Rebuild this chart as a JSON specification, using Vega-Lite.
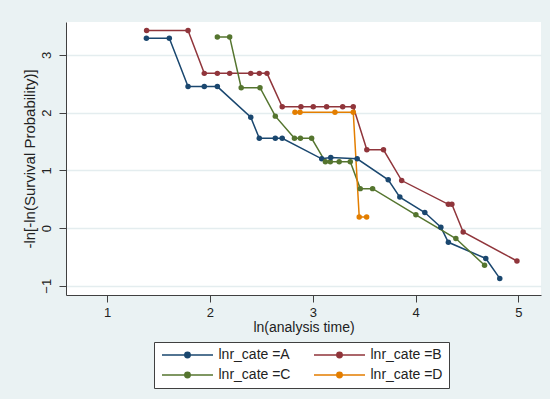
{
  "$schema": "https://vega.github.io/schema/vega-lite/v6.json",
  "width": 475,
  "height": 273,
  "autosize": {"type": "none"},
  "padding": {"left": 66, "top": 22, "right": 9, "bottom": 104},
  "background": "#eaf2f3",
  "config": {"view": {"fill": "white", "stroke": null}, "font": "Liberation Sans"},
  "data": {"values": [
    {"g": "A", "x": 1.382, "y": 3.289},
    {"g": "A", "x": 1.605, "y": 3.289},
    {"g": "A", "x": 1.787, "y": 2.451},
    {"g": "A", "x": 1.945, "y": 2.451},
    {"g": "A", "x": 2.072, "y": 2.451},
    {"g": "A", "x": 2.397, "y": 1.921},
    {"g": "A", "x": 2.480, "y": 1.554},
    {"g": "A", "x": 2.636, "y": 1.554},
    {"g": "A", "x": 2.703, "y": 1.554},
    {"g": "A", "x": 3.087, "y": 1.199},
    {"g": "A", "x": 3.175, "y": 1.222},
    {"g": "A", "x": 3.432, "y": 1.199},
    {"g": "A", "x": 3.734, "y": 0.835},
    {"g": "A", "x": 3.847, "y": 0.536},
    {"g": "A", "x": 4.090, "y": 0.269},
    {"g": "A", "x": 4.246, "y": 0.016},
    {"g": "A", "x": 4.319, "y": -0.247},
    {"g": "A", "x": 4.683, "y": -0.527},
    {"g": "A", "x": 4.819, "y": -0.873},
    {"g": "B", "x": 1.384, "y": 3.421},
    {"g": "B", "x": 1.787, "y": 3.421},
    {"g": "B", "x": 1.945, "y": 2.680},
    {"g": "B", "x": 2.072, "y": 2.680},
    {"g": "B", "x": 2.192, "y": 2.680},
    {"g": "B", "x": 2.397, "y": 2.680},
    {"g": "B", "x": 2.480, "y": 2.680},
    {"g": "B", "x": 2.555, "y": 2.680},
    {"g": "B", "x": 2.703, "y": 2.100},
    {"g": "B", "x": 2.885, "y": 2.100},
    {"g": "B", "x": 3.005, "y": 2.100},
    {"g": "B", "x": 3.135, "y": 2.100},
    {"g": "B", "x": 3.291, "y": 2.100},
    {"g": "B", "x": 3.394, "y": 2.100},
    {"g": "B", "x": 3.526, "y": 1.355},
    {"g": "B", "x": 3.688, "y": 1.355},
    {"g": "B", "x": 3.865, "y": 0.823},
    {"g": "B", "x": 4.319, "y": 0.411},
    {"g": "B", "x": 4.353, "y": 0.411},
    {"g": "B", "x": 4.463, "y": -0.068},
    {"g": "B", "x": 4.986, "y": -0.571},
    {"g": "C", "x": 2.072, "y": 3.312},
    {"g": "C", "x": 2.192, "y": 3.312},
    {"g": "C", "x": 2.304, "y": 2.432},
    {"g": "C", "x": 2.487, "y": 2.432},
    {"g": "C", "x": 2.636, "y": 1.939},
    {"g": "C", "x": 2.822, "y": 1.554},
    {"g": "C", "x": 2.880, "y": 1.554},
    {"g": "C", "x": 2.989, "y": 1.554},
    {"g": "C", "x": 3.123, "y": 1.147},
    {"g": "C", "x": 3.171, "y": 1.147},
    {"g": "C", "x": 3.257, "y": 1.147},
    {"g": "C", "x": 3.365, "y": 1.147},
    {"g": "C", "x": 3.462, "y": 0.683},
    {"g": "C", "x": 3.582, "y": 0.683},
    {"g": "C", "x": 4.003, "y": 0.229},
    {"g": "C", "x": 4.392, "y": -0.181},
    {"g": "C", "x": 4.671, "y": -0.645},
    {"g": "D", "x": 2.827, "y": 2.008},
    {"g": "D", "x": 2.876, "y": 2.008},
    {"g": "D", "x": 3.216, "y": 2.008},
    {"g": "D", "x": 3.394, "y": 2.008},
    {"g": "D", "x": 3.452, "y": 0.190},
    {"g": "D", "x": 3.524, "y": 0.190}
  ]},
  "encoding": {
    "x": {
      "field": "x", "type": "quantitative",
      "scale": {"domain": [0.6, 5.22], "nice": false, "zero": false},
      "axis": {
        "title": "ln(analysis time)", "values": [1, 2, 3, 4, 5], "grid": false,
        "domainColor": "#404040", "tickColor": "#404040", "tickSize": 7,
        "labelFontSize": 13, "labelPadding": 4, "labelColor": "#222",
        "titleFontSize": 14, "titleFontWeight": "normal", "titlePadding": 1, "titleColor": "#222"
      }
    },
    "y": {
      "field": "y", "type": "quantitative",
      "scale": {"domain": [-1.16, 3.57], "nice": false, "zero": false},
      "axis": {
        "title": "-ln[-ln(Survival Probability)]", "values": [-1, 0, 1, 2, 3],
        "grid": true, "gridColor": "#e4edef", "gridWidth": 1.5,
        "domainColor": "#404040", "tickColor": "#404040", "tickSize": 7,
        "labelAngle": -90, "labelAlign": "center", "labelBaseline": "bottom",
        "labelFontSize": 13, "labelPadding": 6, "labelColor": "#222",
        "titleFontSize": 15, "titleFontWeight": "normal", "titlePadding": 3, "titleColor": "#222"
      }
    },
    "color": {
      "field": "g", "type": "nominal",
      "scale": {"domain": ["A", "B", "C", "D"], "range": ["#1a476f", "#90353b", "#55752f", "#e37e00"]},
      "legend": {
        "orient": "none", "legendX": 88, "legendY": 320, "direction": "horizontal", "columns": 2,
        "title": null, "fillColor": "white", "strokeColor": "#404040", "padding": 6,
        "symbolType": "M-5.1,0H5.1M0.54,0A0.54,0.54 0 1,1 -0.54,0A0.54,0.54 0 1,1 0.54,0Z",
        "symbolSize": 100, "symbolOffset": 20.5, "labelOffset": 24, "symbolStrokeWidth": 1.5,
        "labelFontSize": 14, "labelColor": "#222", "columnPadding": 20, "rowPadding": 6,
        "labelExpr": "'lnr_cate =' + datum.label",
        "encode": {"symbols": {"update": {"fill": {"scale": "color", "field": "value"}, "stroke": {"scale": "color", "field": "value"}, "opacity": {"value": 1}}}}
      }
    },
    "order": {"field": "x", "type": "quantitative"}
  },
  "layer": [
    {"mark": {"type": "line", "strokeWidth": 1.5}},
    {"mark": {"type": "point", "filled": true, "size": 30, "opacity": 1}}
  ]
}
